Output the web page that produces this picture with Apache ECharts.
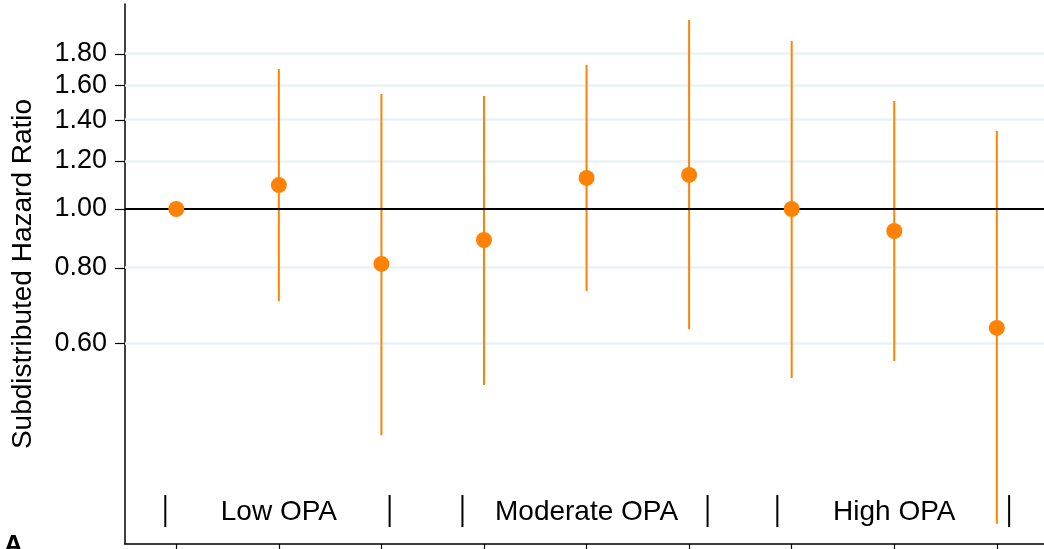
<!DOCTYPE html>
<html>
<head>
<meta charset="utf-8">
<script src="https://cdn.jsdelivr.net/npm/echarts@6/dist/echarts.min.js"></script>
<style>
  html, body { margin: 0; padding: 0; background: #fff; }
  #chart { width: 1044px; height: 549px; }
</style>
</head>
<body>
<div id="chart"></div>
<script>
// Subdistributed hazard ratios with 95% CI, by OPA level
const positions = [0, 1, 2, 3, 4, 5, 6, 7, 8];
const hazardRatio = [1.00, 1.095, 0.812, 0.889, 1.125, 1.138, 1.00, 0.92, 0.637];
const ciLower = [null, 0.705, 0.424, 0.513, 0.733, 0.634, 0.527, 0.562, 0.303];
const ciUpper = [null, 1.70, 1.547, 1.535, 1.727, 2.048, 1.891, 1.506, 1.344];
const yTickLabels = [0.60, 0.80, 1.00, 1.20, 1.40, 1.60, 1.80];
const groupLabels = ['Low OPA', 'Moderate OPA', 'High OPA'];
const groupCenters = [1, 4, 7];
const groupBars = [[-0.107, 2.08], [2.79, 5.18], [5.86, 8.12]];

// y is drawn on a natural-log scale
const ln = Math.log;
const yMin = ln(0.2807), yMax = ln(2.176);
const ORANGE = '#ff8205';
const FONT = "'Liberation Sans', Arial, Helvetica, sans-serif";

const chart = echarts.init(document.getElementById('chart'), null, { renderer: 'canvas' });

const option = {
  animation: false,
  grid: { left: 125, top: 4, right: 0, bottom: 5, containLabel: false },
  xAxis: {
    type: 'value',
    min: -0.5,
    max: 8.46,
    axisLine: { show: true, onZero: false, lineStyle: { color: '#000', width: 1.5 } },
    axisTick: { show: true, length: 6, customValues: positions, lineStyle: { color: '#000', width: 1.2 } },
    axisLabel: { show: false },
    splitLine: { show: false }
  },
  yAxis: {
    type: 'value',
    min: yMin,
    max: yMax,
    name: 'Subdistributed Hazard Ratio',
    nameLocation: 'middle',
    nameGap: 88,
    nameTextStyle: { fontFamily: FONT, fontSize: 28, color: '#000' },
    axisLine: { show: true, onZero: false, lineStyle: { color: '#000', width: 1.5 } },
    axisTick: { show: true, length: 10, customValues: yTickLabels.map(ln), lineStyle: { color: '#000', width: 1.2 } },
    axisLabel: {
      customValues: yTickLabels.map(ln),
      margin: 18,
      fontFamily: FONT,
      fontSize: 27,
      color: '#000',
      formatter: v => Math.exp(v).toFixed(2)
    },
    splitLine: { show: false }
  },
  series: [
    {
      // horizontal grid lines at the labelled ticks
      type: 'line', data: [], z: 1, silent: true,
      markLine: {
        z: 1, silent: true, symbol: 'none', label: { show: false },
        lineStyle: { color: '#eaf2f3', width: 2.5, type: 'solid' },
        data: yTickLabels.filter(v => v !== 1).map(v => ({ yAxis: ln(v) }))
      }
    },
    {
      // confidence intervals
      type: 'custom', z: 2, silent: true,
      data: ciLower.map((lo, i) => lo == null ? null : [positions[i], ln(lo), ln(ciUpper[i])]).filter(d => d),
      renderItem: (params, api) => {
        const top = api.coord([api.value(0), api.value(2)]);
        const bot = api.coord([api.value(0), api.value(1)]);
        return {
          type: 'line',
          shape: { x1: top[0], y1: top[1], x2: bot[0], y2: bot[1] },
          style: { stroke: ORANGE, lineWidth: 2 }
        };
      }
    },
    {
      // reference line at HR = 1
      type: 'line', data: [], z: 3, silent: true,
      markLine: {
        z: 3, silent: true, symbol: 'none', label: { show: false },
        lineStyle: { color: '#000', width: 2, type: 'solid' },
        data: [{ yAxis: 0 }]
      }
    },
    {
      type: 'scatter', z: 4, silent: true,
      symbol: 'circle', symbolSize: 16,
      itemStyle: { color: ORANGE, opacity: 1 },
      data: hazardRatio.map((v, i) => [positions[i], ln(v)])
    },
    {
      // OPA group brackets along the bottom of the plot
      type: 'custom', z: 5, silent: true,
      data: groupLabels.map((g, i) => [groupCenters[i], groupBars[i][0], groupBars[i][1]]),
      renderItem: (params, api) => {
        const base = api.coord([api.value(0), yMin])[1];
        const yc = base - 33;
        const c = api.coord([api.value(0), yMin])[0];
        const l = api.coord([api.value(1), yMin])[0];
        const r = api.coord([api.value(2), yMin])[0];
        const bar = x => ({
          type: 'line',
          shape: { x1: x, y1: yc - 16, x2: x, y2: yc + 16 },
          style: { stroke: '#000', lineWidth: 2 }
        });
        return {
          type: 'group',
          children: [
            bar(l), bar(r),
            {
              type: 'text',
              style: {
                x: c, y: yc + 1, text: groupLabels[params.dataIndex],
                align: 'center', verticalAlign: 'middle',
                font: '28px ' + FONT, fill: '#000'
              }
            }
          ]
        };
      }
    }
  ],
  graphic: [{
    type: 'text', left: 4, top: 533,
    style: { text: 'A', font: 'bold 26px ' + FONT, fill: '#000' }
  }]
};

chart.setOption(option);
</script>
</body>
</html>
